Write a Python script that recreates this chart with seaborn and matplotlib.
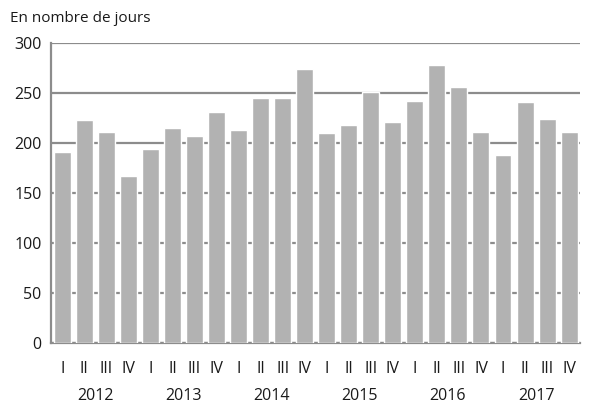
import matplotlib
matplotlib.use("Agg")
import matplotlib.pyplot as plt
import matplotlib.transforms as mtransforms
import pandas as pd
import seaborn as sns

YEARS = ["2012", "2013", "2014", "2015", "2016", "2017"]
QUARTERS = ["I", "II", "III", "IV"]
DAYS = [
    191, 223, 211, 167,
    194, 215, 207, 231,
    213, 245, 245, 274,
    210, 218, 251, 221,
    242, 278, 256, 211,
    188, 241, 224, 211,
]
Y_TICKS = [0, 50, 100, 150, 200, 250, 300]
TITLE = "En nombre de jours"

BAR_COLOR = "#b2b2b2"
GRID_COLOR = "#8c8c8c"
TEXT_COLOR = "#1a1a1a"


def build_frame() -> pd.DataFrame:
    rows = []
    for i, value in enumerate(DAYS):
        year = YEARS[i // 4]
        quarter = QUARTERS[i % 4]
        rows.append({"periode": f"{year}-{quarter}", "jours": value})
    return pd.DataFrame(rows)


def main() -> None:
    sns.set_style("white")
    plt.rcParams["font.family"] = ["Open Sans", "DejaVu Sans"]

    df = build_frame()

    fig = plt.figure(figsize=(5.95, 4.05), dpi=100)
    ax = fig.add_axes([0.086, 0.153, 0.889, 0.741])

    sns.barplot(data=df, x="periode", y="jours", color=BAR_COLOR,
                width=0.77, saturation=1, ax=ax, zorder=3)

    ax.set_ylim(0, 300)
    ax.set_xlim(-0.5, len(DAYS) - 0.5)
    ax.set_yticks(Y_TICKS)
    ax.set_yticklabels([str(t) for t in Y_TICKS], fontsize=11.5, color=TEXT_COLOR)
    ax.yaxis.grid(True, color=GRID_COLOR, linewidth=1.6, zorder=0)
    ax.set_axisbelow(True)

    ax.set_xticks(range(len(DAYS)))
    ax.set_xticklabels([QUARTERS[i % 4] for i in range(len(DAYS))],
                       fontsize=11.5, color=TEXT_COLOR)
    ax.tick_params(axis="x", length=0, pad=13)
    ax.set_xticks([k + 0.5 for k in range(len(DAYS) - 1)], minor=True)
    ax.tick_params(axis="x", which="minor", length=3, color=GRID_COLOR, width=1)
    ax.tick_params(axis="y", length=4, color=GRID_COLOR, width=1, pad=3)

    ax.set_xlabel("")
    ax.set_ylabel("")

    for side in ["top", "right"]:
        ax.spines[side].set_visible(False)
    ax.spines["left"].set_color(GRID_COLOR)
    ax.spines["left"].set_linewidth(1.6)
    ax.spines["bottom"].set_color(GRID_COLOR)
    ax.spines["bottom"].set_linewidth(1.6)

    trans = mtransforms.blended_transform_factory(ax.transData, fig.transFigure)
    for j, year in enumerate(YEARS):
        ax.text(j * 4 + 1.5, 1 - 396 / 405, year, transform=trans,
                ha="center", va="center", fontsize=11.5, color=TEXT_COLOR)

    fig.text(10 / 595, 1 - 18 / 405, TITLE, ha="left", va="center",
             fontsize=11, color=TEXT_COLOR)

    fig.savefig("out.png", dpi=100)


if __name__ == "__main__":
    main()
